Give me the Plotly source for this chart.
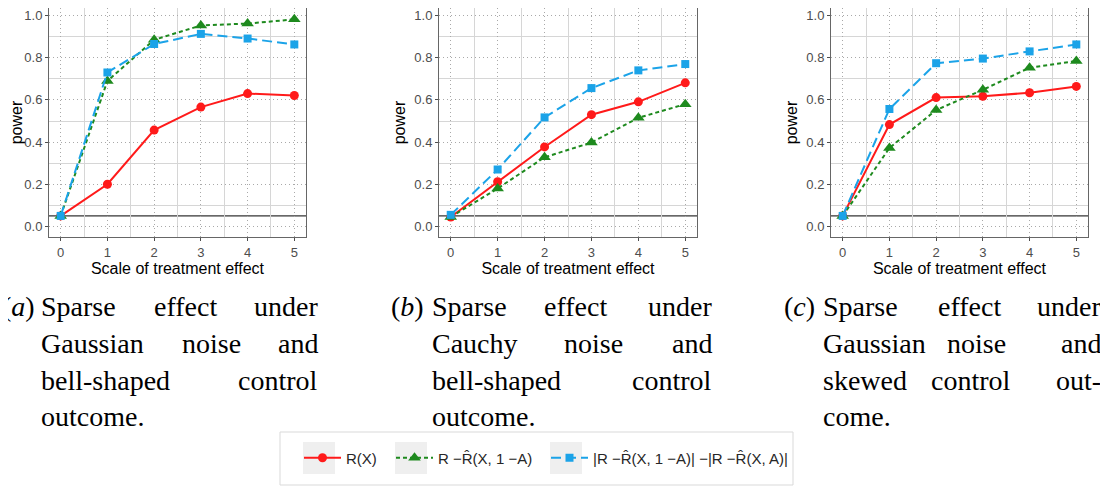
import plotly.graph_objects as go

# The page body has an 8px default margin, so the figure is drawn at (8, 8).
OFF = 8
PAGE_W, PAGE_H = 1108, 487
W, H = PAGE_W - OFF, PAGE_H - OFF


def fx(px):
    return (px - OFF) / W


def fy(py):
    return 1 - (py - OFF) / H


# ---------------- data ----------------
scale = [0, 1, 2, 3, 4, 5]
ALPHA = 0.05

a_rx = [0.050, 0.200, 0.457, 0.566, 0.630, 0.621]
a_rhat = [0.050, 0.690, 0.885, 0.953, 0.962, 0.982]
a_diff = [0.050, 0.730, 0.865, 0.913, 0.891, 0.863]

b_rx = [0.045, 0.212, 0.377, 0.530, 0.591, 0.681]
b_rhat = [0.045, 0.180, 0.328, 0.398, 0.515, 0.580]
b_diff = [0.055, 0.270, 0.517, 0.656, 0.740, 0.770]

c_rx = [0.050, 0.483, 0.611, 0.617, 0.634, 0.664]
c_rhat = [0.050, 0.372, 0.552, 0.648, 0.753, 0.784]
c_diff = [0.050, 0.557, 0.774, 0.796, 0.830, 0.863]

series_names = ["R(X)", "R \u2212R\u0302(X, 1 \u2212A)",
                "|R \u2212R\u0302(X, 1 \u2212A)| \u2212|R \u2212R\u0302(X, A)|"]
y_ticks = [0.0, 0.2, 0.4, 0.6, 0.8, 1.0]

# ---------------- styles ----------------
styles = [
    dict(color="#FF1A1A", dash="solid", symbol="circle", size=9),
    dict(color="#1E8A1E", dash="4px,3px", symbol="triangle-up", size=11),
    dict(color="#1BA3E8", dash="10px,5px", symbol="square", size=8),
]
legend_ids = ["legend", "legend2", "legend3"]
legend_key_left = [303, 395, 550]   # page px of the grey key boxes
KEY_W, KEY_TOP, KEY_BOT = 32, 442, 474

panels = [
    dict(data=[a_rx, a_rhat, a_diff], x0=49, x1=306),
    dict(data=[b_rx, b_rhat, b_diff], x0=439, x1=697),
    dict(data=[c_rx, c_rhat, c_diff], x0=831, x1=1088),
]
# plot area spans page y 5..237 for y in [-0.05, 1.05]; the top 3px lie above the figure
plot_top, plot_bottom = 8, 237
Y_LO, Y_HI_FULL = -0.05, 1.05
px_per_unit = (237 - 5) / (Y_HI_FULL - Y_LO)
Y_HI = Y_HI_FULL - (plot_top - 5) / px_per_unit

fig = go.Figure()
TICKFONT = dict(family="Liberation Sans, Arial, sans-serif", size=13, color="#4d4d4d")
TITLEFONT = dict(family="Liberation Sans, Arial, sans-serif", size=16, color="#000000")
MAJOR_GRID = dict(showgrid=True, gridcolor="#a9a9a9", griddash="1px,3px", gridwidth=1)

for i, p in enumerate(panels):
    sfx = "" if i == 0 else str(i + 1)
    xa, ya = "x" + sfx, "y" + sfx
    for k, (vals, name, st) in enumerate(zip(p["data"], series_names, styles)):
        fig.add_trace(go.Scatter(
            x=scale, y=vals, mode="lines+markers", name=name,
            legendgroup=name, showlegend=(i == 0), legend=legend_ids[k],
            line=dict(color=st["color"], width=2, dash=st["dash"]),
            marker=dict(symbol=st["symbol"], size=st["size"], color=st["color"]),
            xaxis=xa, yaxis=ya, cliponaxis=False,
        ))
    fig.update_layout(**{
        "xaxis" + sfx: dict(
            domain=[fx(p["x0"]), fx(p["x1"])], anchor=ya,
            range=[-0.25, 5.25], tickvals=scale, ticks="outside", ticklen=3,
            tickcolor="#4d4d4d", tickfont=TICKFONT,
            showline=True, mirror=True, linecolor="#666666", linewidth=1,
            **MAJOR_GRID,
            minor=dict(tick0=0.5, dtick=1, showgrid=True, gridcolor="#d6d6d6",
                       griddash="solid", gridwidth=1),
            zeroline=False,
            title=dict(text="Scale of treatment effect", font=TITLEFONT, standoff=0),
        ),
        "yaxis" + sfx: dict(
            domain=[fy(plot_bottom), min(1.0, fy(plot_top))], anchor=xa,
            range=[Y_LO, Y_HI], tickvals=y_ticks, tickformat=".1f",
            ticks="outside", ticklen=3, tickcolor="#4d4d4d", tickfont=TICKFONT,
            showline=True, mirror=True, linecolor="#666666", linewidth=1,
            **MAJOR_GRID,
            minor=dict(tick0=0.1, dtick=0.2, showgrid=True, gridcolor="#d6d6d6",
                       griddash="solid", gridwidth=1),
            zeroline=False,
            title=dict(text="power", font=TITLEFONT, standoff=4),
        ),
    })
    fig.add_shape(type="line", xref=xa + " domain", x0=0, x1=1, yref=ya,
                  y0=ALPHA, y1=ALPHA, line=dict(color="#000000", width=1),
                  layer="below")

# ---------------- captions (justified words) ----------------
CAP = dict(family="Liberation Serif, Times New Roman, serif", size=28, color="#000000")
baselines = [306, 343, 380, 416]

captions = [
    dict(label="(<i>a</i>)", lab_r=37, lines=[
        [("Sparse", "l", 39), ("effect", "c", 185), ("under", "r", 320)],
        [("Gaussian", "l", 39), ("noise", "c", 211), ("and", "r", 320)],
        [("bell-shaped", "l", 39), ("control", "r", 320)],
        [("outcome.", "l", 39)],
    ]),
    dict(label="(<i>b</i>)", lab_r=426, lines=[
        [("Sparse", "l", 430), ("effect", "c", 575), ("under", "r", 714)],
        [("Cauchy", "l", 430), ("noise", "c", 593), ("and", "r", 714)],
        [("bell-shaped", "l", 430), ("control", "r", 714)],
        [("outcome.", "l", 430)],
    ]),
    dict(label="(<i>c</i>)", lab_r=817, lines=[
        [("Sparse", "l", 821), ("effect", "c", 969), ("under", "r", 1103)],
        [("Gaussian", "l", 821), ("noise", "c", 976), ("and", "r", 1103)],
        [("skewed", "l", 821), ("control", "c", 971), ("out-", "r", 1103)],
        [("come.", "l", 821)],
    ]),
]
anchor_map = {"l": "left", "c": "center", "r": "right"}
for cap in captions:
    fig.add_annotation(text=cap["label"], x=fx(cap["lab_r"]), y=fy(baselines[0]),
                       xref="paper", yref="paper", xanchor="right", yanchor="middle",
                       showarrow=False, font=CAP)
    for li, line in enumerate(cap["lines"]):
        for word, anc, px in line:
            fig.add_annotation(text=word, x=fx(px), y=fy(baselines[li]),
                               xref="paper", yref="paper", xanchor=anchor_map[anc],
                               yanchor="middle", showarrow=False, font=CAP)

# ---------------- legend ----------------
fig.add_shape(type="rect", xref="paper", yref="paper",
              x0=fx(280), x1=fx(793), y0=fy(485), y1=fy(432),
              line=dict(color="#d9d9d9", width=1), fillcolor="#ffffff", layer="below")
LEGFONT = dict(family="Liberation Sans, Arial, sans-serif", size=15, color="#262626")
legends = {}
for lid, kx in zip(legend_ids, legend_key_left):
    fig.add_shape(type="rect", xref="paper", yref="paper",
                  x0=fx(kx), x1=fx(kx + KEY_W), y0=fy(KEY_BOT), y1=fy(KEY_TOP),
                  line=dict(width=0), fillcolor="#efefef", layer="below")
    legends[lid] = dict(orientation="h", x=fx(kx - 4), xanchor="left",
                        y=fy((KEY_TOP + KEY_BOT) / 2), yanchor="middle",
                        font=LEGFONT, bgcolor="rgba(0,0,0,0)", borderwidth=0,
                        itemwidth=37)

fig.update_layout(
    width=W, height=H, autosize=False,
    margin=dict(l=0, r=0, t=0, b=0),
    paper_bgcolor="#ffffff", plot_bgcolor="#ffffff",
    **legends,
)

fig.write_html("out.html")
